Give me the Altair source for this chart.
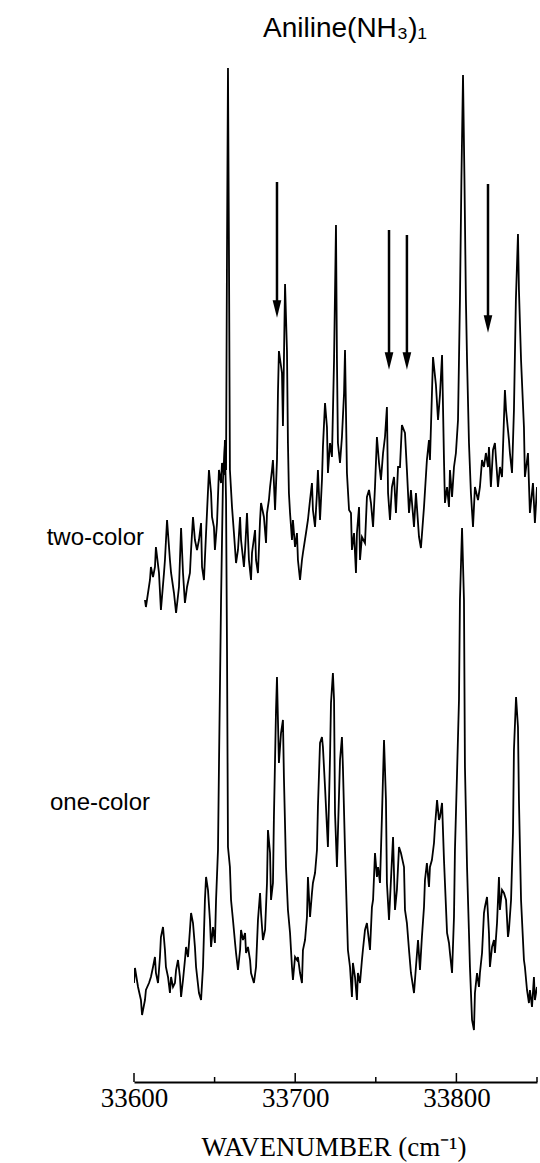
import altair as alt
import pandas as pd

# ---- two-color spectrum (wavenumber, intensity arb. units incl. vertical offset) ----
two_w = [33606.8, 33607.4, 33609.9, 33610.5, 33611.8, 33613.0, 33613.6, 33615.5, 33616.7, 33618.6,
         33619.2, 33620.5, 33622.3, 33623.0, 33624.8, 33626.1, 33627.9, 33629.2, 33630.4, 33631.6,
         33632.9, 33634.7, 33635.4, 33636.6, 33637.8, 33639.1, 33640.3, 33641.6, 33642.2, 33643.4,
         33644.7, 33646.5, 33647.8, 33648.4, 33649.6, 33650.2, 33651.5, 33652.7, 33654.0, 33654.6,
         33655.8, 33656.4, 33657.1, 33657.7, 33658.3, 33658.9, 33659.5, 33660.8, 33662.0, 33663.3,
         33664.5, 33665.8, 33666.4, 33668.2, 33668.9, 33670.1, 33671.3, 33672.6, 33673.2, 33675.1,
         33675.7, 33676.9, 33678.2, 33678.8, 33680.6, 33681.9, 33682.5, 33683.7, 33684.4, 33685.6,
         33686.2, 33687.5, 33688.7, 33689.3, 33689.9, 33691.8, 33692.4, 33693.7, 33694.9, 33695.5,
         33696.1, 33696.8, 33698.0, 33698.6, 33699.9, 33701.1, 33701.7, 33703.0, 33704.2, 33704.8,
         33706.7, 33707.9, 33709.2, 33710.4, 33711.0, 33712.3, 33713.5, 33714.1, 33715.4, 33716.6,
         33717.2, 33718.5, 33719.7, 33720.3, 33721.6, 33722.8, 33724.1, 33725.3, 33725.9, 33726.5,
         33727.8, 33729.0, 33730.3, 33730.9, 33732.1, 33733.4, 33734.6, 33735.2, 33736.5, 33737.7,
         33738.3, 33739.6, 33740.2, 33741.4, 33743.3, 33744.5, 33745.8, 33747.0, 33748.3, 33749.5,
         33750.7, 33752.0, 33753.2, 33754.5, 33755.7, 33756.9, 33757.6, 33758.8, 33760.0, 33761.3,
         33762.5, 33763.8, 33765.0, 33766.2, 33768.1, 33769.3, 33770.6, 33771.8, 33773.7, 33774.9,
         33776.8, 33778.0, 33779.9, 33781.7, 33783.0, 33783.6, 33785.5, 33787.3, 33788.6, 33789.8,
         33791.1, 33792.3, 33792.9, 33794.2, 33795.4, 33796.0, 33797.3, 33798.5, 33799.7, 33801.0,
         33802.2, 33803.1, 33804.1, 33805.0, 33805.9, 33806.6, 33807.8, 33809.0, 33810.3, 33811.5,
         33813.4, 33814.6, 33815.9, 33817.1, 33818.3, 33819.6, 33820.2, 33821.4, 33822.7, 33823.9,
         33824.6, 33825.8, 33827.0, 33828.3, 33830.1, 33830.8, 33832.6, 33833.2, 33834.5, 33835.7,
         33836.9, 33838.2, 33838.8, 33840.1, 33841.9, 33842.5, 33844.4, 33845.6, 33847.5, 33848.7,
         33850.0]
two_i = [482, 475, 502, 515, 505, 515, 535, 509, 472, 509,
         522, 562, 522, 509, 489, 469, 495, 554, 509, 479,
         495, 509, 532, 565, 542, 532, 542, 559, 515, 502,
         549, 612, 589, 565, 555, 532, 559, 612, 599, 619,
         607, 642, 612, 832, 1014, 832, 612, 575, 549, 519,
         532, 565, 542, 515, 532, 569, 522, 502, 529, 552,
         522, 509, 562, 579, 565, 539, 569, 582, 595, 612,
         622, 572, 622, 689, 731, 709, 656, 798, 731, 639,
         589, 569, 542, 562, 535, 549, 522, 502, 522, 529,
         549, 562, 582, 599, 572, 555, 589, 612, 562, 602,
         635, 679, 655, 609, 639, 625, 722, 857, 722, 639,
         619, 645, 689, 732, 609, 572, 569, 532, 549, 509,
         549, 575, 522, 545, 539, 585, 592, 579, 555, 595,
         645, 619, 602, 629, 645, 675, 589, 562, 595, 605,
         569, 615, 615, 657, 649, 612, 569, 592, 555, 589,
         545, 534, 575, 622, 642, 622, 725, 697, 662, 687,
         727, 622, 579, 595, 575, 612, 585, 615, 629, 662,
         782, 902, 1007, 902, 782, 722, 639, 589, 555, 595,
         582, 595, 622, 615, 629, 615, 635, 595, 632, 639,
         622, 595, 615, 605, 692, 672, 642, 629, 609, 672,
         782, 848, 792, 722, 655, 605, 629, 569, 599, 559,
         595]

# ---- one-color spectrum ----
one_w = [33600.0, 33600.6, 33602.5, 33604.3, 33605.0, 33606.8, 33607.4, 33609.3, 33610.5, 33611.8,
         33613.0, 33613.6, 33614.9, 33616.1, 33616.7, 33618.0, 33619.2, 33619.8, 33621.1, 33622.3,
         33623.0, 33624.2, 33625.4, 33626.1, 33627.3, 33628.5, 33629.2, 33630.4, 33631.6, 33632.3,
         33633.5, 33634.7, 33635.4, 33636.6, 33637.8, 33638.5, 33640.3, 33641.6, 33642.8, 33644.0,
         33644.7, 33645.9, 33647.1, 33647.8, 33649.0, 33650.2, 33650.9, 33652.1, 33652.7, 33654.0,
         33655.2, 33656.4, 33657.1, 33657.7, 33658.3, 33659.5, 33660.2, 33661.4, 33662.7, 33663.3,
         33664.5, 33665.8, 33666.4, 33667.6, 33668.9, 33669.5, 33670.7, 33672.0, 33672.6, 33674.4,
         33675.7, 33676.9, 33678.2, 33678.8, 33680.0, 33681.3, 33682.5, 33683.1, 33684.4, 33685.0,
         33686.2, 33686.8, 33688.1, 33688.7, 33689.9, 33691.2, 33692.4, 33693.0, 33694.3, 33695.5,
         33696.8, 33698.0, 33698.6, 33699.9, 33701.1, 33701.7, 33703.0, 33704.2, 33704.8, 33706.1,
         33707.3, 33707.9, 33709.2, 33710.4, 33711.0, 33712.3, 33713.5, 33714.1, 33715.4, 33716.6,
         33717.2, 33718.5, 33719.7, 33720.3, 33721.6, 33722.2, 33723.4, 33724.1, 33724.7, 33725.9,
         33726.5, 33727.8, 33729.0, 33729.6, 33730.9, 33732.1, 33732.7, 33734.0, 33735.2, 33735.8,
         33737.1, 33738.3, 33738.9, 33740.2, 33741.4, 33742.0, 33743.3, 33744.5, 33745.2, 33746.4,
         33747.6, 33748.3, 33749.5, 33750.7, 33751.4, 33752.6, 33753.8, 33755.1, 33756.3, 33756.9,
         33758.2, 33759.4, 33760.7, 33761.9, 33763.1, 33764.4, 33765.6, 33767.5, 33768.1, 33769.3,
         33770.6, 33771.8, 33773.7, 33774.9, 33776.2, 33777.4, 33778.6, 33779.9, 33780.5, 33781.7,
         33783.0, 33783.6, 33784.8, 33786.1, 33786.7, 33788.0, 33789.2, 33789.8, 33791.1, 33792.3,
         33792.9, 33794.2, 33795.4, 33796.0, 33797.3, 33798.5, 33799.1, 33800.4, 33801.6, 33802.2,
         33803.5, 33804.7, 33805.3, 33806.6, 33807.8, 33808.4, 33809.7, 33810.9, 33811.5, 33812.8,
         33814.0, 33814.6, 33815.9, 33817.1, 33817.7, 33819.0, 33820.2, 33820.8, 33822.1, 33823.3,
         33823.9, 33825.2, 33826.4, 33827.0, 33828.3, 33829.5, 33830.8, 33832.0, 33832.6, 33833.9,
         33835.1, 33835.7, 33837.0, 33838.2, 33838.8, 33840.1, 33841.9, 33842.5, 33843.8, 33845.0,
         33845.6, 33846.9, 33848.1, 33848.7, 33850.0]
one_i = [99, 114, 95, 82, 67, 82, 92, 99, 105, 115,
         125, 109, 99, 125, 145, 155, 132, 115, 105, 89,
         105, 95, 99, 112, 122, 105, 85, 102, 122, 135,
         125, 152, 169, 159, 135, 115, 89, 82, 115, 182,
         205, 192, 162, 135, 155, 139, 182, 232, 315, 482,
         602, 637, 582, 432, 235, 215, 182, 162, 139, 129,
         112, 132, 152, 142, 149, 129, 135, 122, 109, 99,
         115, 162, 189, 169, 142, 152, 199, 252, 229, 182,
         199, 265, 372, 405, 319, 349, 362, 305, 215, 172,
         149, 115, 102, 125, 122, 125, 109, 99, 132, 142,
         165, 205, 165, 189, 199, 209, 232, 275, 339, 345,
         335, 295, 255, 235, 325, 379, 409, 382, 269, 215,
         249, 322, 345, 315, 232, 165, 132, 115, 85, 119,
         105, 82, 109, 99, 122, 132, 152, 159, 149, 132,
         175, 182, 229, 205, 215, 199, 265, 342, 282, 199,
         162, 202, 245, 172, 192, 235, 229, 215, 172, 159,
         132, 109, 89, 115, 142, 112, 145, 175, 202, 219,
         195, 215, 222, 239, 255, 282, 262, 265, 279, 222,
         199, 149, 139, 129, 109, 165, 232, 309, 382, 482,
         554, 482, 315, 215, 149, 115, 62, 52, 89, 109,
         95, 109, 129, 169, 175, 185, 149, 115, 135, 142,
         129, 159, 205, 172, 192, 189, 182, 145, 152, 182,
         249, 332, 385, 355, 282, 182, 122, 115, 92, 79,
         92, 75, 105, 82, 95]

# ---- arrows marking new bands in the two-color spectrum ----
arrow_w = [33688.7, 33758.2, 33769.3, 33819.6]
arrow_top = [900, 852, 847, 898]
arrow_tip = [765, 713, 713, 750]

major_ticks = [33600, 33700, 33800]
minor_ticks = [33650, 33750, 33850]

W, H = 403, 1022

df_two = pd.DataFrame({"w": two_w, "i": two_i})
df_one = pd.DataFrame({"w": one_w, "i": one_i})
df_arr = pd.DataFrame({"w": arrow_w, "top": arrow_top, "tip": arrow_tip})
df_arr["head"] = df_arr["tip"] + 8
df_maj = pd.DataFrame({"w": major_ticks})
df_min = pd.DataFrame({"w": minor_ticks})

xscale = alt.Scale(domain=[33600, 33850], nice=False, zero=False)
yscale = alt.Scale(domain=[0, H], nice=False, zero=False)

xaxis = alt.Axis(values=major_ticks, format="d", ticks=False, grid=False,
                 domainColor="black", domainWidth=2,
                 labelFont="Liberation Serif", labelFontSize=27, labelColor="black",
                 labelPadding=3, labelFlush=False,
                 title="WAVENUMBER (cm⁻¹)", titleFont="Liberation Serif",
                 titleFontSize=27, titleFontWeight="normal", titleColor="black",
                 titleBaseline="alphabetic", titleY=73, titleX=W / 2 - 2)

X = alt.X("w:Q", scale=xscale, axis=xaxis)


def Y(field):
    return alt.Y(field, type="quantitative", scale=yscale, axis=None)


line_two = alt.Chart(df_two).mark_line(color="black", strokeWidth=1.8, clip=True).encode(
    x=X, y=Y("i"))
line_one = alt.Chart(df_one).mark_line(color="black", strokeWidth=1.8, clip=True).encode(
    x=X, y=Y("i"))
shafts = alt.Chart(df_arr).mark_rule(color="black", strokeWidth=2.5).encode(
    x=X, y=Y("top"), y2="head:Q")
heads = alt.Chart(df_arr).mark_point(
    shape="M-0.5,-1L0.5,-1L0,1Z", size=300, filled=True, color="black", opacity=1
).encode(x=X, y=Y("head"))
maj = alt.Chart(df_maj).mark_rule(color="black", strokeWidth=1.5).encode(
    x=X, y=alt.value(H), y2=alt.value(H - 9))
mnr = alt.Chart(df_min).mark_rule(color="black", strokeWidth=1.5).encode(
    x=X, y=alt.value(H), y2=alt.value(H - 5))

title_txt = alt.Chart(pd.DataFrame({"t": ["Aniline(NH₃)₁"]})).mark_text(
    font="Liberation Sans", fontSize=28, align="center", baseline="alphabetic", color="black"
).encode(text="t:N", x=alt.value(211), y=alt.value(-23))

lab_two = alt.Chart(pd.DataFrame({"t": ["two-color"]})).mark_text(
    font="Liberation Sans", fontSize=24, align="right", baseline="alphabetic", color="black"
).encode(text="t:N", x=alt.value(10), y=alt.value(485))
lab_one = alt.Chart(pd.DataFrame({"t": ["one-color"]})).mark_text(
    font="Liberation Sans", fontSize=24, align="right", baseline="alphabetic", color="black"
).encode(text="t:N", x=alt.value(16), y=alt.value(750))

chart = alt.layer(line_two, line_one, shafts, heads, maj, mnr, title_txt, lab_two, lab_one).properties(
    width=W, height=H,
    padding={"left": 134, "top": 60, "right": 3, "bottom": 81},
    autosize=alt.AutoSizeParams(type="none"),
    background="white",
).configure_view(stroke=None).configure_axis(grid=False)

chart.save("out.html", embed_options={"renderer": "svg", "actions": False})
